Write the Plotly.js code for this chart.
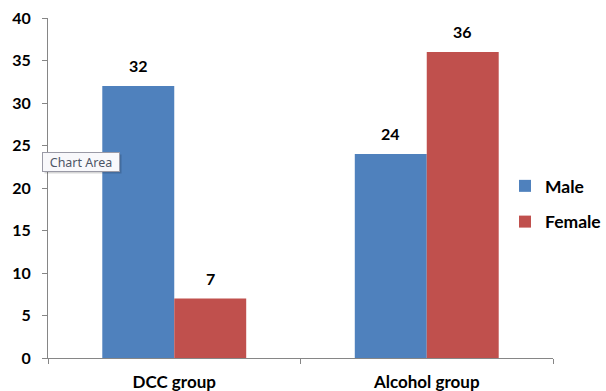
<!DOCTYPE html>
<html>
<head>
<meta charset="utf-8">
<script src="https://cdn.plot.ly/plotly-3.0.1.min.js"></script>
<style>
  html, body { margin: 0; padding: 0; background: #ffffff; }
  #chart { width: 606px; height: 391px; }
</style>
</head>
<body>
<div id="chart"></div>
<script>
// Gender split per study group
const groups = ["DCC group", "Alcohol group"];
const seriesNames = ["Male", "Female"];
const maleCounts = [32, 24];
const femaleCounts = [7, 36];
const yTicks = [0, 5, 10, 15, 20, 25, 30, 35, 40];

const colors = { Male: "#4f81bd", Female: "#c0504d" };
const fontFamily = "Lato, 'Open Sans', sans-serif";
const labelFont = { family: fontFamily, size: 16, color: "#000000", weight: "bold" };

const seriesValues = [maleCounts, femaleCounts];

const traces = seriesNames.map((name, i) => ({
  type: "bar",
  name: name,
  x: groups,
  y: seriesValues[i],
  marker: { color: colors[name], line: { width: 0 } },
  legendgroup: name,
  hoverinfo: "skip"
}));

// value labels above each bar, positioned from the same values
const barOffset = 36;
const annotations = [];
seriesValues.forEach((vals, i) => {
  vals.forEach((v, j) => {
    annotations.push({
      x: groups[j], y: v, xref: "x", yref: "y",
      xshift: (i === 0 ? -barOffset : barOffset),
      yshift: 9,
      yanchor: "bottom",
      text: String(v),
      showarrow: false,
      font: labelFont
    });
  });
});

const layout = {
  width: 606,
  height: 391,
  margin: { l: 48, r: 53, t: 18, b: 33, pad: 0, autoexpand: false },
  paper_bgcolor: "#ffffff",
  plot_bgcolor: "#ffffff",
  barmode: "group",
  bargap: 0.43,
  bargroupgap: 0,
  showlegend: true,
  legend: {
    x: 0.905, y: 0.453, xanchor: "left", yanchor: "middle",
    xref: "paper", yref: "paper",
    font: { family: fontFamily, size: 17.5, color: "#000000", weight: "bold" },
    traceorder: "grouped",
    tracegroupgap: 10,
    itemwidth: 30,
    bgcolor: "rgba(0,0,0,0)"
  },
  xaxis: {
    type: "category",
    range: [-0.5, 1.5],
    showline: true,
    linecolor: "#868686",
    linewidth: 1,
    ticks: "outside",
    tickson: "boundaries",
    ticklen: 5,
    tickcolor: "#868686",
    showgrid: false,
    zeroline: false,
    tickfont: { family: fontFamily, size: 17, color: "#000000", weight: "bold" },
    ticklabelstandoff: 9,
    fixedrange: true
  },
  yaxis: {
    range: [0, 40],
    tickmode: "array",
    tickvals: yTicks,
    ticktext: yTicks.map(String),
    showline: true,
    linecolor: "#868686",
    linewidth: 1,
    ticks: "outside",
    ticklen: 5,
    tickcolor: "#868686",
    showgrid: false,
    zeroline: false,
    tickfont: labelFont,
    ticklabelstandoff: 8,
    fixedrange: true
  },
  annotations: annotations
};

// hover hint box ("Chart Area") with a soft drop shadow, placed in pixels
const plotW = layout.width - layout.margin.l - layout.margin.r;
const plotH = layout.height - layout.margin.t - layout.margin.b;
const px = (x) => (x - layout.margin.l) / plotW;
const py = (y) => (layout.height - layout.margin.b - y) / plotH;
const hintFont = { family: "'Noto Sans', 'DejaVu Sans', sans-serif", size: 12.5, color: "#4d5566" };
annotations.push({
  x: px(44), y: py(164), xref: "paper", yref: "paper",
  text: " ", showarrow: false, width: 72, height: 14,
  font: hintFont,
  bgcolor: "rgba(0,0,0,0.16)", borderwidth: 1, bordercolor: "rgba(0,0,0,0)", borderpad: 2,
  xanchor: "left", yanchor: "middle"
});
annotations.push({
  x: px(42), y: py(162), xref: "paper", yref: "paper",
  text: "Chart Area", showarrow: false, width: 72, height: 14,
  font: hintFont,
  bgcolor: "#f8f8fb", bordercolor: "#9a9aa6", borderwidth: 1, borderpad: 2,
  xanchor: "left", yanchor: "middle"
});

Plotly.newPlot("chart", traces, layout, { displayModeBar: false, staticPlot: true });
</script>
</body>
</html>
